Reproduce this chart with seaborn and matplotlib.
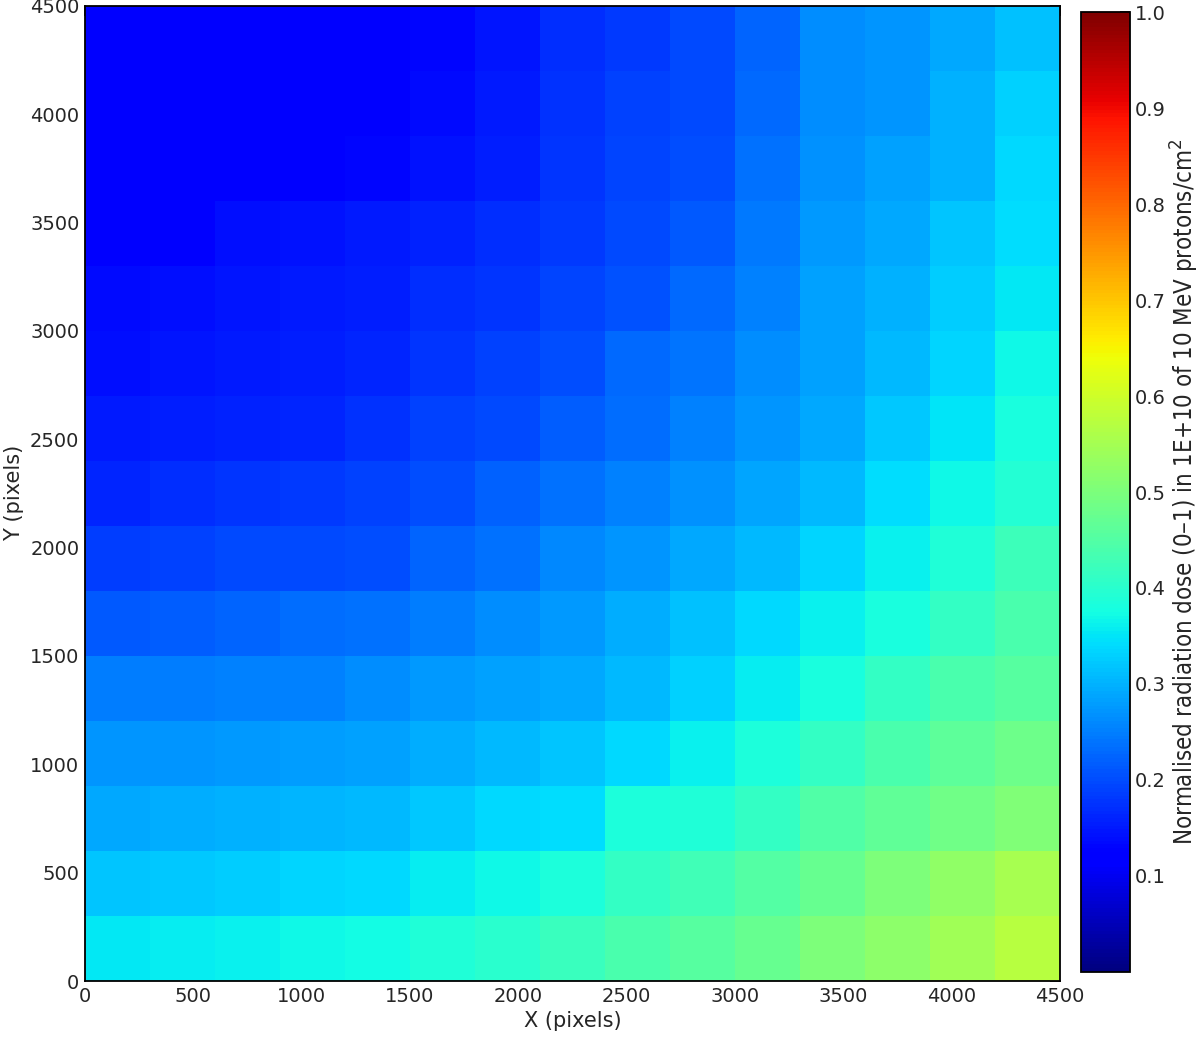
import numpy as np
import matplotlib
matplotlib.use("Agg")
import matplotlib.pyplot as plt
import seaborn as sns

# -----------------------------
# DATA (rows from top y=4500 down to y=0, columns x=0..4500)
# -----------------------------
cell_size = 300
x_ticks = [0, 500, 1000, 1500, 2000, 2500, 3000, 3500, 4000, 4500]
y_ticks = [0, 500, 1000, 1500, 2000, 2500, 3000, 3500, 4000, 4500]
cbar_ticks = [0.1, 0.2, 0.3, 0.4, 0.5, 0.6, 0.7, 0.8, 0.9, 1.0]

row_4200 = [0.110, 0.112, 0.116, 0.118, 0.121, 0.132, 0.145, 0.170, 0.180, 0.196, 0.223, 0.262, 0.272, 0.290, 0.313]
row_3900 = [0.112, 0.114, 0.117, 0.120, 0.123, 0.135, 0.150, 0.172, 0.188, 0.199, 0.227, 0.262, 0.272, 0.297, 0.329]
row_3600 = [0.114, 0.116, 0.119, 0.122, 0.132, 0.141, 0.156, 0.176, 0.192, 0.203, 0.235, 0.266, 0.282, 0.297, 0.337]
row_3300 = [0.118, 0.121, 0.137, 0.141, 0.149, 0.160, 0.168, 0.180, 0.196, 0.211, 0.243, 0.274, 0.290, 0.317, 0.341]
row_3000 = [0.133, 0.137, 0.145, 0.149, 0.156, 0.168, 0.176, 0.192, 0.207, 0.227, 0.250, 0.282, 0.297, 0.325, 0.352]
row_2700 = [0.137, 0.145, 0.152, 0.156, 0.164, 0.176, 0.188, 0.203, 0.227, 0.239, 0.262, 0.282, 0.305, 0.333, 0.370]
row_2400 = [0.152, 0.156, 0.160, 0.164, 0.172, 0.188, 0.196, 0.215, 0.231, 0.250, 0.270, 0.290, 0.321, 0.348, 0.379]
row_2100 = [0.164, 0.168, 0.176, 0.180, 0.188, 0.203, 0.219, 0.235, 0.250, 0.266, 0.286, 0.305, 0.341, 0.369, 0.394]
row_1800 = [0.184, 0.188, 0.196, 0.199, 0.203, 0.223, 0.235, 0.258, 0.270, 0.290, 0.305, 0.333, 0.362, 0.389, 0.423]
row_1500 = [0.211, 0.215, 0.223, 0.231, 0.235, 0.247, 0.262, 0.274, 0.294, 0.313, 0.337, 0.360, 0.379, 0.413, 0.438]
row_1200 = [0.247, 0.247, 0.250, 0.252, 0.262, 0.274, 0.282, 0.290, 0.305, 0.329, 0.357, 0.379, 0.413, 0.438, 0.457]
row_900 = [0.270, 0.270, 0.274, 0.278, 0.282, 0.294, 0.305, 0.317, 0.337, 0.362, 0.384, 0.413, 0.438, 0.462, 0.484]
row_600 = [0.290, 0.294, 0.297, 0.301, 0.305, 0.321, 0.337, 0.341, 0.384, 0.389, 0.413, 0.447, 0.467, 0.486, 0.506]
row_300 = [0.317, 0.321, 0.325, 0.333, 0.337, 0.356, 0.368, 0.384, 0.413, 0.428, 0.452, 0.476, 0.501, 0.525, 0.554]
row_0 = [0.352, 0.356, 0.360, 0.370, 0.374, 0.389, 0.399, 0.418, 0.438, 0.457, 0.476, 0.501, 0.520, 0.545, 0.574]

dose = np.array([row_4200, row_3900, row_3600, row_3300, row_3000, row_2700, row_2400,
                 row_2100, row_1800, row_1500, row_1200, row_900, row_600, row_300, row_0])
n_rows, n_cols = dose.shape
extent_y = n_rows * cell_size

# -----------------------------
# FIGURE
# -----------------------------
sns.set_style("white")
plt.rcParams['font.family'] = ['DejaVu Sans']

fig = plt.figure(figsize=(12, 10.37), dpi=100)
ax = fig.add_axes([0.0708, 0.054, 0.8125, 0.9405])
cax = fig.add_axes([0.9008, 0.0627, 0.0408, 0.9257])

sns.heatmap(dose, cmap="jet", vmin=0.0, vmax=1.0, ax=ax, cbar_ax=cax,
            cbar_kws={"ticks": cbar_ticks}, square=False,
            xticklabels=False, yticklabels=False)

# numeric pixel ticks on the cell grid
ax.set_xticks([t / cell_size for t in x_ticks])
ax.set_xticklabels([str(t) for t in x_ticks])
ax.set_yticks([(extent_y - t) / cell_size for t in y_ticks])
ax.set_yticklabels([str(t) for t in y_ticks], rotation=0)

ax.tick_params(direction="in", length=7, width=1.3, top=True, right=True,
               labelsize=14, pad=4)
for s in ax.spines.values():
    s.set_visible(True)
    s.set_linewidth(1.3)
    s.set_color("black")

ax.set_xlabel("X (pixels)", fontsize=15, labelpad=4)
ax.set_ylabel("Y (pixels)", fontsize=15, labelpad=4)

# colorbar
cbar = ax.collections[0].colorbar
cbar.ax.tick_params(direction="in", length=7, width=1.3, labelsize=14)
cbar.outline.set_visible(True)
cbar.outline.set_linewidth(1.3)
cbar.outline.set_edgecolor("black")
cbar.set_label("Normalised radiation dose (0\u20131) in 1E+10 of 10 MeV protons/cm$^2$",
               fontsize=17.2, labelpad=2,
               family=['DejaVu Sans Condensed', 'Liberation Sans Narrow', 'DejaVu Sans'],
               fontstretch="condensed")

fig.savefig("out.png", dpi=100)
